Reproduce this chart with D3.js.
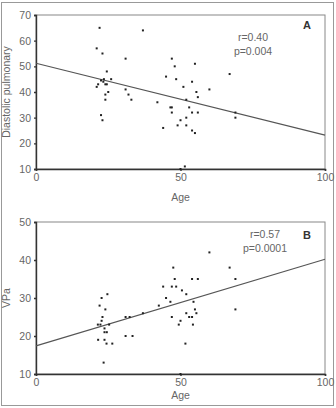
<!DOCTYPE html>
<html><head><meta charset="utf-8">
<script src="https://cdn.jsdelivr.net/npm/d3@7"></script>
<style>
html,body{margin:0;padding:0;background:#fff;}
svg{display:block;}
text{font-family:"Liberation Sans Narrow","Arial Narrow","Liberation Sans",sans-serif;fill:#555;}
</style></head>
<body>
<script>
// Panel A: Age vs Diastolic pulmonary
const ageA = [22,37,21,23,31,47,55,48,67,24.5,45,48.5,26,23.5,22.5,23.3,24,24.5,21.5,21,54,51,25,31,32,24,24,33,55.5,60,56,52,42,46.5,47,53,47,54,56,69,69,22.5,23,50,52,49,52,44,54,55,51.5,50];
const diaA = [65,64,57,55,53,53,51,50,47,48,46,45,45,45,44.5,44,43,43,43,42,44,42,40,41,39,39,37,37,40,41,38,37,36,34,34,34,32,32,32,32,30,31,29,29,30,27,27,26,25,24,11,10];
// Panel B: Age vs VPa
const ageB = [60,47.5,67,48,54,56,69,44,47,48.5,50.5,52,24.7,22.7,45,46.5,54.5,22,42.5,24,55,69,37,52,55.5,23,31,32.4,47,53,54,22.7,50,21.4,22.3,25.3,49.4,54.3,23.7,23.7,24.5,31,33.4,21.5,23.7,24.4,26.4,51.7,23.4,50];
const vpaB = [42,38,38,35,35,35,35,33,33,33,32,31,31,30,30,29,29,28,28,27,27,27,26,26,26,25,25,25,25,25,25,24,24,23,23,23,23,23,22,21,21,20,20,19,19,18,18,18,13,10];
const xTicks = [0,50,100];
const yTicksA = [10,20,30,40,50,60,70];
const yTicksB = [10,20,30,40,50];
const fitA = [51.2,23.2]; // regression at x=0 and x=100
const fitB = [17.4,40.2];

const svg = d3.select("body").append("svg").attr("width",336).attr("height",408);
svg.append("rect").attr("x",1.5).attr("y",2.5).attr("width",332).attr("height",403)
  .attr("fill","none").attr("stroke","#999").attr("stroke-width",1);

function panel(cfg){
  const x = d3.scaleLinear().domain([0,100]).range([36,325]);
  const y = d3.scaleLinear().domain(cfg.ydom).range([cfg.bottom,cfg.top]);
  const g = svg.append("g");
  g.append("rect").attr("x",x(0)).attr("y",y(cfg.ydom[1])).attr("width",x(100)-x(0)).attr("height",y(cfg.ydom[0])-y(cfg.ydom[1]))
    .attr("fill","none").attr("stroke","#888").attr("stroke-width",1);
  const ya = g.append("g").attr("transform",`translate(${x(0)},0)`)
    .call(d3.axisLeft(y).tickValues(cfg.yticks).tickSize(2).tickPadding(3).tickFormat(d3.format("d")));
  const xa = g.append("g").attr("transform",`translate(0,${y(cfg.ydom[0])})`)
    .call(d3.axisBottom(x).tickValues(xTicks).tickSize(2).tickPadding(3).tickFormat(d3.format("d")));
  [ya,xa].forEach(a=>{
    a.select(".domain").attr("stroke","#333").attr("stroke-width",1.4);
    a.selectAll(".tick line").attr("stroke","#333").attr("stroke-width",1.4);
    a.selectAll("text").attr("font-size",10.5).style("fill","#666")
      .attr("font-family",'"Liberation Sans Narrow","Arial Narrow","Liberation Sans",sans-serif');
  });
  g.append("line").attr("x1",x(0)).attr("y1",y(cfg.fit[0])).attr("x2",x(100)).attr("y2",y(cfg.fit[1]))
    .attr("stroke","#555").attr("stroke-width",1.1);
  g.selectAll("rect.pt").data(cfg.xs).enter().append("rect").attr("class","pt")
    .attr("x",(d)=>x(d)-1).attr("y",(d,i)=>y(cfg.ys[i])-1).attr("width",2).attr("height",2).attr("fill","#222");
  g.append("text").attr("transform",`translate(10,${(cfg.top+cfg.bottom)/2}) rotate(-90)`)
    .attr("text-anchor","middle").attr("font-size",10.5).style("fill","#666").text(cfg.ylabel);
  g.append("text").attr("x",x(50)).attr("y",cfg.agey).attr("text-anchor","middle").attr("font-size",10.5).style("fill","#666").text("Age");
  g.append("text").attr("x",cfg.rx).attr("y",cfg.ry).attr("text-anchor","middle").attr("font-size",10.5).style("fill","#666").text(cfg.r);
  g.append("text").attr("x",cfg.rx).attr("y",cfg.ry+14).attr("text-anchor","middle").attr("font-size",10.5).style("fill","#666").text(cfg.p);
  g.append("text").attr("x",307).attr("y",cfg.lety).attr("text-anchor","middle").attr("font-size",11)
    .attr("font-weight","bold").style("fill","#333").attr("font-family","Liberation Sans, sans-serif").text(cfg.letter);
}
panel({ydom:[10,70],top:15,bottom:169,yticks:yTicksA,xs:ageA,ys:diaA,fit:fitA,ylabel:"Diastolic pulmonary",
  agey:201,rx:253,ry:41,r:"r=0.40",p:"p=0.004",letter:"A",lety:29});
panel({ydom:[10,50],top:222,bottom:374,yticks:yTicksB,xs:ageB,ys:vpaB,fit:fitB,ylabel:"VPa",
  agey:399,rx:265,ry:238,r:"r=0.57",p:"p=0.0001",letter:"B",lety:239});
</script>
</body></html>
